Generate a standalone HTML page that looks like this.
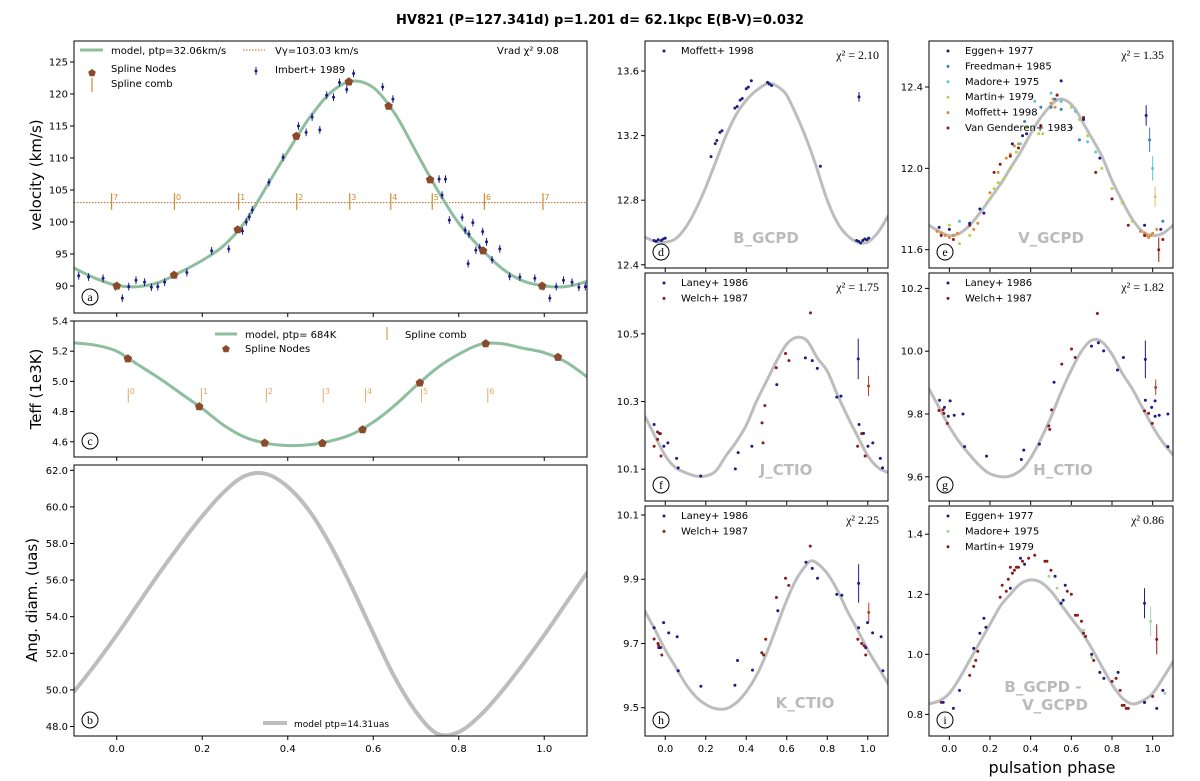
<!DOCTYPE html>
<html><head><meta charset="utf-8">
<style>
html,body{margin:0;padding:0;background:#fff;}
svg{display:block;font-family:"DejaVu Sans","Liberation Sans",sans-serif;}
</style></head>
<body>
<svg id="chart" width="1200" height="781" viewBox="0 0 1200 781" xmlns="http://www.w3.org/2000/svg">
<rect width="1200" height="781" fill="#fff"/>
<text x="600" y="24" text-anchor="middle" font-size="13" font-weight="bold" fill="#000">HV821 (P=127.341d) p=1.201 d= 62.1kpc E(B-V)=0.032</text>
<text transform="translate(41,175) rotate(-90)" text-anchor="middle" font-size="15">velocity (km/s)</text>
<text transform="translate(41,389) rotate(-90)" text-anchor="middle" font-size="15">Teff (1e3K)</text>
<text transform="translate(37,600) rotate(-90)" text-anchor="middle" font-size="15">Ang. diam. (uas)</text>
<text x="1052" y="773" text-anchor="middle" font-size="16">pulsation phase</text>
</svg>
<script>
// ---------- DATA ----------
const vradModelPhase=[-0.1,-0.05,0,0.05,0.1,0.15,0.2,0.25,0.3,0.35,0.4,0.45,0.5,0.55,0.6,0.65,0.7,0.75,0.8,0.85,0.9,0.95,1.0,1.05,1.1];
const vradModelVal=[92.8,91.2,90.1,89.9,90.6,92.2,94.0,96.3,100.0,105.5,111.0,116.2,120.2,122.0,121.0,117.0,111.0,105.0,99.8,96.0,92.8,90.8,90.0,89.9,90.7];
const vradNodePhase=[0.0,0.134,0.283,0.42,0.543,0.636,0.733,0.857,0.995];
const vradNodeVal=[90.0,91.7,98.8,113.4,121.9,118.1,106.6,95.5,90.0];
const vradCombPhase=[-0.012,0.135,0.285,0.421,0.545,0.641,0.738,0.860,0.997];
const vradCombLabel=["7","0","1","2","3","4","5","6","7"];
const vGamma=103.03;
const imbertPhase=[-0.089,-0.066,-0.032,-0.003,0.013,0.028,0.045,0.065,0.081,0.096,0.112,0.164,0.222,0.262,0.294,0.303,0.310,0.317,0.356,0.389,0.425,0.443,0.457,0.475,0.491,0.507,0.521,0.538,0.554,0.622,0.646,0.754,0.769,0.761,0.778,0.808,0.815,0.822,0.824,0.833,0.840,0.849,0.856,0.865,0.878,0.896,0.919,0.943,0.978,0.997,1.013,1.028,1.045,1.065,1.081,1.096];
const imbertVel=[91.6,91.4,91.2,89.9,88.1,89.9,90.9,90.6,89.8,89.9,90.6,92.1,95.5,95.8,98.6,100.0,100.8,101.9,106.2,110.1,115.0,114.0,116.4,114.4,119.8,119.5,121.8,120.7,123.2,121.1,119.2,106.7,106.7,104.2,100.3,100.7,98.7,93.5,98.1,99.9,95.6,96.0,98.5,96.9,94.1,95.8,91.5,91.4,91.2,89.9,88.1,89.9,90.9,90.6,89.8,89.9];
const teffModelPhase=[-0.1,-0.05,0,0.05,0.1,0.15,0.2,0.25,0.3,0.35,0.4,0.45,0.5,0.55,0.6,0.65,0.7,0.75,0.8,0.85,0.9,0.95,1.0,1.05,1.1];
const teffModelVal=[5.255,5.24,5.2,5.11,5.02,4.92,4.82,4.71,4.63,4.59,4.575,4.58,4.605,4.65,4.73,4.84,4.97,5.09,5.18,5.245,5.25,5.22,5.19,5.13,5.03];
const teffNodePhase=[0.026,0.193,0.346,0.481,0.575,0.709,0.863,1.032];
const teffNodeVal=[5.15,4.833,4.592,4.59,4.68,4.99,5.25,5.16];
const teffCombPhase=[0.027,0.198,0.35,0.483,0.582,0.713,0.868];
const teffCombLabel=["0","1","2","3","4","5","6"];
const diamPhase=[-0.1,-0.05,0,0.05,0.1,0.15,0.2,0.25,0.3,0.35,0.4,0.45,0.5,0.55,0.6,0.65,0.7,0.75,0.8,0.85,0.9,0.95,1.0,1.05,1.1];
const diamVal=[49.9,51.4,53.0,54.7,56.4,58.0,59.5,60.8,61.7,61.8,61.1,59.8,57.9,55.6,53.1,50.7,48.8,47.6,47.7,48.6,49.9,51.4,53.0,54.7,56.4];
const bModelPhase=[-0.1,-0.05,0,0.05,0.1,0.15,0.2,0.25,0.3,0.35,0.4,0.45,0.5,0.53,0.57,0.6,0.65,0.7,0.74,0.8,0.85,0.9,0.95,1.0,1.05,1.1];
const bModelVal=[12.57,12.545,12.54,12.56,12.63,12.74,12.88,13.04,13.2,13.33,13.42,13.48,13.52,13.52,13.49,13.45,13.32,13.17,13.03,12.8,12.66,12.58,12.54,12.54,12.6,12.7];
const moffBPhase=[-0.055,-0.045,-0.035,-0.02,-0.01,0.0,0.226,0.247,0.255,0.27,0.28,0.344,0.355,0.37,0.38,0.40,0.41,0.425,0.505,0.514,0.525,0.766,0.957,0.945,0.955,0.965,0.975,0.985,0.995,1.005];
const moffBMag=[12.55,12.545,12.555,12.55,12.56,12.565,13.07,13.15,13.17,13.22,13.23,13.37,13.38,13.42,13.43,13.49,13.50,13.54,13.53,13.52,13.51,13.01,13.44,12.55,12.545,12.535,12.55,12.56,12.555,12.565];
const vModelPhase=[-0.1,-0.05,0,0.05,0.1,0.15,0.2,0.25,0.3,0.35,0.4,0.45,0.5,0.54,0.58,0.62,0.66,0.7,0.75,0.8,0.85,0.9,0.95,1.0,1.05,1.1];
const vModelVal=[11.72,11.69,11.67,11.68,11.72,11.78,11.85,11.92,12.0,12.08,12.17,12.25,12.31,12.34,12.33,12.29,12.22,12.15,12.06,11.94,11.84,11.75,11.69,11.67,11.68,11.72];
const eggenVPhase=[-0.05,0.0,0.1,0.15,0.17,0.31,0.36,0.38,0.55,0.66,0.74,0.96,1.04];
const eggenVMag=[11.71,11.70,11.73,11.80,11.78,12.12,12.16,12.17,12.43,12.24,12.05,11.72,11.70];
const freedVPhase=[0.37,0.45,0.5,0.52,0.55,0.6,0.64,1.05];
const freedVMag=[12.23,12.30,12.30,12.34,12.29,12.20,12.14,11.74];
const madoreVPhase=[0.05,0.35,0.42,0.5,0.55,0.62,0.68,0.72];
const madoreVMag=[11.74,12.12,12.33,12.37,12.33,12.28,12.13,12.08];
const martinVPhase=[0.0,0.05,0.1,0.2,0.22,0.24,0.27,0.3,0.33,0.38,0.44,0.46,0.5,0.6,0.64,0.68,0.75,0.8,0.85,0.9];
const martinVMag=[11.72,11.63,11.67,11.85,11.90,11.93,11.95,12.00,12.08,12.20,12.17,12.17,12.30,12.30,12.24,12.16,12.00,11.90,11.83,11.74];
const moffVPhase=[-0.06,-0.04,-0.02,0.0,0.02,0.04,0.12,0.14,0.2,0.24,0.28,0.3,0.32,0.34,0.5,0.51,0.52,0.53,0.55,0.94,0.96,0.97,0.98,0.99,1.0,1.02];
const moffVMag=[11.69,11.68,11.67,11.66,11.67,11.68,11.7,11.73,11.88,11.98,12.05,12.07,12.11,12.12,12.32,12.34,12.30,12.36,12.33,11.69,11.68,11.67,11.66,11.67,11.68,11.70];
const vangVPhase=[-0.04,0.02,0.1,0.22,0.25,0.3,0.34,0.45,0.53,0.66,0.72,0.8,0.88,0.96,1.05];
const vangVMag=[11.67,11.65,11.72,11.98,12.02,12.06,12.10,12.21,12.36,12.25,11.98,11.85,11.72,11.67,11.65];
const errVPhase=[0.968,0.985,1.0,1.012,1.03];
const errVMag=[12.26,12.14,12.0,11.86,11.6];
const jModelPhase=[-0.1,-0.05,0,0.05,0.1,0.15,0.2,0.25,0.3,0.35,0.4,0.45,0.5,0.55,0.6,0.65,0.7,0.75,0.8,0.85,0.9,0.95,1.0,1.05,1.1];
const jModelVal=[10.256,10.197,10.14,10.105,10.09,10.08,10.08,10.095,10.14,10.18,10.23,10.3,10.36,10.42,10.47,10.49,10.48,10.43,10.39,10.32,10.256,10.197,10.14,10.105,10.09];
const laneyJPhase=[-0.055,-0.029,-0.007,0.013,0.056,0.064,0.175,0.346,0.360,0.428,0.551,0.692,0.726,0.751,0.847,0.868,0.957,0.979,1.001,1.025,1.062,1.073];
const laneyJMag=[10.232,10.206,10.168,10.178,10.132,10.104,10.080,10.101,10.149,10.168,10.35,10.429,10.421,10.398,10.313,10.316,10.232,10.206,10.168,10.178,10.132,10.104];
const welchJPhase=[-0.055,-0.038,-0.038,-0.024,-0.021,0.478,0.483,0.492,0.548,0.594,0.611,0.717,0.950,0.970,0.987];
const welchJMag=[10.168,10.21,10.188,10.205,10.139,10.237,10.178,10.288,10.40,10.442,10.421,10.562,10.168,10.205,10.139];
const errJPhase=[0.953,1.004];
const errJMag=[10.426,10.346];
const errJSize=[0.06,0.03];
const hModelPhase=[-0.1,-0.05,0,0.05,0.1,0.15,0.2,0.28,0.35,0.4,0.45,0.5,0.55,0.6,0.65,0.7,0.75,0.8,0.85,0.9,0.95,1.0,1.05,1.1];
const hModelVal=[9.88,9.82,9.76,9.71,9.67,9.635,9.61,9.60,9.62,9.66,9.72,9.79,9.87,9.94,10.0,10.035,10.03,9.99,9.93,9.88,9.82,9.76,9.71,9.67];
const laneyHPhase=[-0.048,-0.024,0.004,-0.005,0.024,0.067,0.075,0.183,0.354,0.366,0.443,0.515,0.699,0.733,0.759,0.827,0.856,0.964,0.995,1.012,1.012,1.032,1.075,1.075];
const laneyHMag=[9.844,9.821,9.842,9.793,9.796,9.8,9.696,9.666,9.655,9.685,9.704,9.901,10.016,10.027,10.001,9.94,9.98,9.844,9.821,9.842,9.793,9.796,9.8,9.696];
const welchHPhase=[-0.051,-0.031,-0.027,-0.01,0.489,0.494,0.503,0.553,0.601,0.619,0.728,0.96,0.98,0.998];
const welchHMag=[9.811,9.813,9.802,9.77,9.762,9.751,9.813,9.959,10.007,9.98,10.12,9.81,9.802,9.77];
const errHPhase=[0.964,1.015];
const errHMag=[9.974,9.885];
const errHSize=[0.06,0.025];
const kModelPhase=[-0.1,-0.05,0,0.05,0.1,0.15,0.2,0.25,0.3,0.35,0.4,0.45,0.5,0.55,0.6,0.65,0.7,0.72,0.75,0.8,0.85,0.9,0.95,1.0,1.05,1.1];
const kModelVal=[9.80,9.742,9.68,9.628,9.575,9.535,9.51,9.497,9.497,9.515,9.55,9.6,9.669,9.752,9.835,9.903,9.947,9.957,9.95,9.918,9.866,9.80,9.742,9.68,9.628,9.575];
const laneyKPhase=[-0.055,-0.032,-0.023,-0.008,0.017,0.059,0.064,0.176,0.344,0.357,0.431,0.556,0.695,0.726,0.752,0.847,0.872,0.955,0.999,0.99,1.024,1.066,1.075];
const laneyKMag=[9.749,9.687,9.687,9.765,9.733,9.721,9.615,9.567,9.570,9.647,9.617,9.802,9.953,9.934,9.903,9.853,9.850,9.749,9.765,9.687,9.733,9.721,9.615];
const welchKPhase=[-0.055,-0.036,-0.032,-0.017,0.477,0.486,0.496,0.549,0.594,0.61,0.716,0.951,0.97,0.982,0.99];
const welchKMag=[9.714,9.700,9.693,9.664,9.671,9.664,9.713,9.843,9.903,9.881,10.003,9.713,9.700,9.693,9.664];
const errKPhase=[0.955,1.005];
const errKMag=[9.887,9.797];
const errKSize=[0.06,0.03];
const bvModelPhase=[-0.1,-0.05,0,0.05,0.1,0.15,0.2,0.25,0.3,0.35,0.4,0.45,0.5,0.55,0.6,0.65,0.7,0.75,0.8,0.85,0.9,0.95,1.0,1.05,1.1];
const bvModelVal=[0.835,0.845,0.87,0.92,0.98,1.04,1.1,1.16,1.2,1.235,1.248,1.24,1.21,1.165,1.12,1.075,1.02,0.96,0.9,0.855,0.835,0.845,0.87,0.92,0.975];
const eggenBVPhase=[-0.03,0.02,0.05,0.12,0.15,0.17,0.18,0.3,0.35,0.37,0.52,0.55,0.56,0.57,0.7,0.74,0.76,0.83,0.96,1.02,1.05];
const eggenBVVal=[0.84,0.82,0.88,1.02,1.07,1.12,1.09,1.22,1.32,1.30,1.26,1.17,1.18,1.23,1.0,0.94,0.92,0.94,0.84,0.82,0.88];
const madoreBVPhase=[0.1,0.49,0.53,0.66,0.7,1.06];
const madoreBVVal=[0.98,1.26,1.22,1.08,0.99,0.87];
const martinBVPhase=[-0.04,0.1,0.12,0.13,0.14,0.25,0.26,0.28,0.29,0.3,0.31,0.32,0.33,0.34,0.36,0.39,0.42,0.47,0.48,0.5,0.58,0.6,0.62,0.63,0.65,0.66,0.67,0.71,0.8,0.82,0.84,0.85,0.86,0.87,0.88,0.96,1.0];
const martinBVVal=[0.84,0.93,0.96,0.98,1.01,1.19,1.23,1.21,1.25,1.29,1.27,1.28,1.29,1.29,1.31,1.32,1.33,1.31,1.31,1.28,1.21,1.20,1.13,1.13,1.11,1.07,1.06,0.98,0.91,0.92,0.88,0.83,0.83,0.82,0.82,0.84,0.86];
const errBVPhase=[0.96,0.99,1.02];
const errBVVal=[1.17,1.11,1.05];

// ---------- RENDER ----------
const NS='http://www.w3.org/2000/svg';
const svg=document.getElementById('chart');
function mk(tag,attrs,name,parent){
  const el=document.createElementNS(NS,tag);
  for(const k in attrs) el.setAttribute(k,attrs[k]);
  
  
  (parent||svg).appendChild(el);
  return el;
}
function txt(x,y,s,name,size,anchor,extra,parent){
  const t=mk('text',Object.assign({x:x,y:y,'font-size':size||10,'text-anchor':anchor||'start'},extra||{}),name,parent);
  t.textContent=s;
  return t;
}
const P={
 a:{L:74,R:587,T:41,B:313,y0:85.78,y1:128.28,ticks:[90,95,100,105,110,115,120,125],dec:0,xl:false,letter:'a'},
 c:{L:74,R:587,T:321,B:457,y0:4.499,y1:5.4,ticks:[4.6,4.8,5.0,5.2,5.4],dec:1,xl:false,letter:'c'},
 b:{L:74,R:587,T:465,B:736,y0:47.48,y1:62.29,ticks:[48,50,52,54,56,58,60,62],dec:1,xl:true,letter:'b'},
 d:{L:645,R:888,T:41,B:268,y0:12.38,y1:13.786,ticks:[12.4,12.8,13.2,13.6],dec:1,xl:false,letter:'d'},
 e:{L:929,R:1173,T:41,B:268,y0:11.51,y1:12.626,ticks:[11.6,12.0,12.4],dec:1,xl:false,letter:'e'},
 f:{L:645,R:888,T:273,B:501,y0:10.006,y1:10.68,ticks:[10.1,10.3,10.5],dec:1,xl:false,letter:'f'},
 g:{L:929,R:1173,T:273,B:501,y0:9.523,y1:10.249,ticks:[9.6,9.8,10.0,10.2],dec:1,xl:false,letter:'g'},
 h:{L:645,R:888,T:506,B:736,y0:9.412,y1:10.128,ticks:[9.5,9.7,9.9,10.1],dec:1,xl:true,letter:'h'},
 i:{L:929,R:1173,T:506,B:736,y0:0.728,y1:1.494,ticks:[0.8,1.0,1.2,1.4],dec:1,xl:true,letter:'i'}
};
const xTicks=[0,0.2,0.4,0.6,0.8,1.0];
function sx(p,v){return p.L+(v+0.1)/1.2*(p.R-p.L);}
function sy(p,v){return p.B-(v-p.y0)/(p.y1-p.y0)*(p.B-p.T);}
for(const k in P){
  const p=P[k];
  const g=mk('g',{},'panel-'+k);
  const cp=mk('clipPath',{id:'clip-'+k},'clip-'+k,g);
  mk('rect',{x:p.L,y:p.T,width:p.R-p.L,height:p.B-p.T},'clip-rect',cp);
  p.plot=mk('g',{'clip-path':'url(#clip-'+k+')'},'plot-area-'+k,g);
  p.ax=mk('g',{},'axes-'+k,g);
  p.ticks.forEach(t=>{
    const y=sy(p,t);
    mk('line',{x1:p.L-4,x2:p.L,y1:y,y2:y,stroke:'#000','stroke-width':1},'y-tick',p.ax);
    txt(p.L-6,y+3.5,t.toFixed(p.dec),'y-tick-label',10,'end',{},p.ax);
  });
  xTicks.forEach(t=>{
    const x=sx(p,t);
    mk('line',{x1:x,x2:x,y1:p.B,y2:p.B+4,stroke:'#000','stroke-width':1},'x-tick',p.ax);
    if(p.xl) txt(x,p.B+16,t.toFixed(1),'x-tick-label',10,'middle',{},p.ax);
  });
}
function curve(p,xs,ys,color,w,name){
  const pts=xs.map((x,i)=>[sx(p,x),sy(p,ys[i])]);
  let d='M'+pts[0][0].toFixed(1)+','+pts[0][1].toFixed(1);
  for(let i=0;i<pts.length-1;i++){
    const p0=pts[Math.max(0,i-1)],p1=pts[i],p2=pts[i+1],p3=pts[Math.min(pts.length-1,i+2)];
    const c1=[p1[0]+(p2[0]-p0[0])/6,p1[1]+(p2[1]-p0[1])/6];
    const c2=[p2[0]-(p3[0]-p1[0])/6,p2[1]-(p3[1]-p1[1])/6];
    d+=' C'+c1[0].toFixed(1)+','+c1[1].toFixed(1)+' '+c2[0].toFixed(1)+','+c2[1].toFixed(1)+' '+p2[0].toFixed(1)+','+p2[1].toFixed(1);
  }
  mk('path',{d:d,fill:'none',stroke:color,'stroke-width':w,'stroke-linecap':'round'},name,p.plot);
}
function dots(p,xs,ys,color,name,r){
  xs.forEach((x,i)=>{
    mk('circle',{cx:sx(p,x),cy:sy(p,ys[i]),r:r||1.5,fill:color},name,p.plot);
  });
}
function errs(p,xs,ys,es,colors,name){
  xs.forEach((x,i)=>{
    const e=Array.isArray(es)?es[i]:es;
    const c=Array.isArray(colors)?colors[i]:colors;
    mk('line',{x1:sx(p,x),x2:sx(p,x),y1:sy(p,ys[i]-e),y2:sy(p,ys[i]+e),stroke:c,'stroke-width':1},name+'-errorbar',p.plot);
    mk('circle',{cx:sx(p,x),cy:sy(p,ys[i]),r:1.5,fill:c},name,p.plot);
  });
}
function pent(cx,cy,r,color,name,parent){
  let s='';
  for(let k=0;k<5;k++){const a=-Math.PI/2+k*2*Math.PI/5;s+=(cx+r*Math.cos(a)).toFixed(1)+','+(cy+r*Math.sin(a)).toFixed(1)+' ';}
  mk('polygon',{points:s,fill:color},name,parent);
}
const GREEN='#8dbf9f',GRAY='#bdbdbd',NAVY='#1c1c84',RED='#8b1a1a',NODE='#8b4a2b',COMB='#d08a2e';

(function(){const p=P.a;
 const yg=sy(p,vGamma);
 mk('line',{x1:p.L,x2:p.R,y1:yg,y2:yg,stroke:'#c0651e','stroke-width':1,'stroke-dasharray':'1.5,1.5'},'vgamma-line',p.plot);
 vradCombPhase.forEach((ph,i)=>{
   const x=sx(p,ph);
   mk('line',{x1:x,x2:x,y1:sy(p,104.5),y2:sy(p,101.9),stroke:COMB,'stroke-width':1.2},'spline-comb-tick',p.plot);
   txt(x+1.5,sy(p,103.4),vradCombLabel[i],'spline-comb-label',8,'start',{fill:COMB},p.plot);
 });
 curve(p,vradModelPhase,vradModelVal,GREEN,3,'vrad-model-curve');
 errs(p,imbertPhase,imbertVel,0.6,NAVY,'imbert-point');
 vradNodePhase.forEach((ph,i)=>pent(sx(p,ph),sy(p,vradNodeVal[i]),4.5,NODE,'spline-node',p.plot));
 const a=p.ax;
 mk('line',{x1:80,x2:103,y1:50,y2:50,stroke:GREEN,'stroke-width':3},'legend-model-line',a);
 txt(111,54,'model, ptp=32.06km/s','legend-model',10,'start',{},a);
 pent(92,73,4,NODE,'legend-node-marker',a);
 txt(111,72,'Spline Nodes','legend-spline-nodes',10,'start',{},a);
 mk('line',{x1:92,x2:92,y1:78,y2:92,stroke:COMB,'stroke-width':1.2},'legend-comb-marker',a);
 txt(111,87,'Spline comb','legend-spline-comb',10,'start',{},a);
 mk('line',{x1:243,x2:265,y1:50,y2:50,stroke:'#c0651e','stroke-width':1,'stroke-dasharray':'1.5,1.5'},'legend-vgamma-line',a);
 txt(275,54,'Vγ=103.03 km/s','legend-vgamma',10,'start',{},a);
 mk('line',{x1:256,x2:256,y1:67,y2:75,stroke:NAVY,'stroke-width':1},'legend-imbert-marker',a);
 mk('circle',{cx:256,cy:71,r:1.5,fill:NAVY},'legend-imbert-dot',a);
 txt(275,73,'Imbert+ 1989','legend-imbert',10,'start',{},a);
 txt(497,54,'Vrad χ²   9.08','chi2-label-a',10,'start',{},a);
})();
(function(){const p=P.c;
 teffCombPhase.forEach((ph,i)=>{
   const x=sx(p,ph);
   mk('line',{x1:x,x2:x,y1:sy(p,4.955),y2:sy(p,4.86),stroke:'#e2a96a','stroke-width':1},'spline-comb-tick',p.plot);
   txt(x+1.5,sy(p,4.915),teffCombLabel[i],'spline-comb-label',8,'start',{fill:'#e2a96a'},p.plot);
 });
 curve(p,teffModelPhase,teffModelVal,GREEN,3,'teff-model-curve');
 teffNodePhase.forEach((ph,i)=>pent(sx(p,ph),sy(p,teffNodeVal[i]),4.5,NODE,'spline-node',p.plot));
 const a=p.ax;
 mk('line',{x1:215,x2:237,y1:334,y2:334,stroke:GREEN,'stroke-width':3},'legend-model-line',a);
 txt(245,338,'model, ptp= 684K','legend-model',10,'start',{},a);
 pent(226,349,4,NODE,'legend-node-marker',a);
 txt(245,352,'Spline Nodes','legend-spline-nodes',10,'start',{},a);
 mk('line',{x1:387,x2:387,y1:327,y2:340,stroke:COMB,'stroke-width':1},'legend-comb-marker',a);
 txt(405,338,'Spline comb','legend-spline-comb',10,'start',{},a);
})();
(function(){const p=P.b;
 curve(p,diamPhase,diamVal,GRAY,4,'angdiam-model-curve');
 mk('line',{x1:263,x2:287,y1:723,y2:723,stroke:GRAY,'stroke-width':4},'legend-model-line',p.ax);
 txt(294,727,'model ptp=14.31uas','legend-model',9,'start',{},p.ax);
})();
(function(){const p=P.d;
 curve(p,bModelPhase,bModelVal,GRAY,3,'b-model-curve');
 dots(p,moffBPhase,moffBMag,NAVY,'moffett-point');
 errs(p,[0.957],[13.44],[0.03],NAVY,'moffett-error-point');
})();
(function(){const p=P.e;
 curve(p,vModelPhase,vModelVal,GRAY,3,'v-model-curve');
 dots(p,martinVPhase,martinVMag,'#b5d24e','martin-point');
 dots(p,moffVPhase,moffVMag,'#e08a3c','moffett-point');
 dots(p,madoreVPhase,madoreVMag,'#5fc6c6','madore-point');
 dots(p,freedVPhase,freedVMag,'#3a80b8','freedman-point');
 dots(p,vangVPhase,vangVMag,RED,'vangenderen-point');
 dots(p,eggenVPhase,eggenVMag,NAVY,'eggen-point');
 errs(p,errVPhase,errVMag,[0.05,0.06,0.06,0.05,0.06],[NAVY,'#3a80b8','#5fc6c6','#e0c060',RED],'error-point');
})();
(function(){const p=P.f;
 curve(p,jModelPhase,jModelVal,GRAY,3,'j-model-curve');
 dots(p,laneyJPhase,laneyJMag,NAVY,'laney-point');
 dots(p,welchJPhase,welchJMag,RED,'welch-point');
 errs(p,errJPhase,errJMag,errJSize,[NAVY,'#b0442a'],'error-point');
})();
(function(){const p=P.g;
 curve(p,hModelPhase,hModelVal,GRAY,3,'h-model-curve');
 dots(p,laneyHPhase,laneyHMag,NAVY,'laney-point');
 dots(p,welchHPhase,welchHMag,RED,'welch-point');
 errs(p,errHPhase,errHMag,errHSize,[NAVY,'#b0442a'],'error-point');
})();
(function(){const p=P.h;
 curve(p,kModelPhase,kModelVal,GRAY,3,'k-model-curve');
 dots(p,laneyKPhase,laneyKMag,NAVY,'laney-point');
 dots(p,welchKPhase,welchKMag,RED,'welch-point');
 errs(p,errKPhase,errKMag,errKSize,[NAVY,'#b0442a'],'error-point');
})();
(function(){const p=P.i;
 curve(p,bvModelPhase,bvModelVal,GRAY,3,'bv-model-curve');
 dots(p,martinBVPhase,martinBVVal,RED,'martin-point');
 dots(p,madoreBVPhase,madoreBVVal,'#a6d6a6','madore-point');
 dots(p,eggenBVPhase,eggenBVVal,NAVY,'eggen-point');
 errs(p,errBVPhase,errBVVal,[0.05,0.05,0.05],[NAVY,'#a6d6a6',RED],'error-point');
})();
function legend(p,items){
  items.forEach((it,i)=>{
    const y=p.T+13+i*15.4;
    mk('circle',{cx:p.L+19,cy:y-3,r:1.5,fill:it[1]},'legend-marker',p.ax);
    txt(p.L+36,y,it[0],'legend-entry',10,'start',{},p.ax);
  });
}
legend(P.d,[['Moffett+ 1998',NAVY]]);
legend(P.e,[['Eggen+ 1977',NAVY],['Freedman+ 1985','#3a80b8'],['Madore+ 1975','#5fc6c6'],['Martin+ 1979','#b5d24e'],['Moffett+ 1998','#e08a3c'],['Van Genderen+ 1983',RED]]);
legend(P.f,[['Laney+ 1986',NAVY],['Welch+ 1987',RED]]);
legend(P.g,[['Laney+ 1986',NAVY],['Welch+ 1987',RED]]);
legend(P.h,[['Laney+ 1986',NAVY],['Welch+ 1987',RED]]);
legend(P.i,[['Eggen+ 1977',NAVY],['Madore+ 1975','#a6d6a6'],['Martin+ 1979',RED]]);
const chiStyle={'font-family':'Liberation Serif, serif'};
txt(P.d.R-9,P.d.T+18,'χ² = 2.10','chi2-label-d',12,'end',chiStyle,P.d.ax);
txt(P.e.R-9,P.e.T+18,'χ² = 1.35','chi2-label-e',12,'end',chiStyle,P.e.ax);
txt(P.f.R-9,P.f.T+18,'χ² = 1.75','chi2-label-f',12,'end',chiStyle,P.f.ax);
txt(P.g.R-9,P.g.T+18,'χ² = 1.82','chi2-label-g',12,'end',chiStyle,P.g.ax);
txt(P.h.R-9,P.h.T+18,'χ²    2.25','chi2-label-h',12,'end',chiStyle,P.h.ax);
txt(P.i.R-9,P.i.T+18,'χ²    0.86','chi2-label-i',12,'end',chiStyle,P.i.ax);
const lblStyle={fill:'#bbbbbb','font-weight':'bold'};
txt(766,243,'B_GCPD','band-label-d',15,'middle',lblStyle,P.d.ax);
txt(1051,243,'V_GCPD','band-label-e',15,'middle',lblStyle,P.e.ax);
txt(786,475,'J_CTIO','band-label-f',15,'middle',lblStyle,P.f.ax);
txt(1063,475,'H_CTIO','band-label-g',15,'middle',lblStyle,P.g.ax);
txt(805,708,'K_CTIO','band-label-h',15,'middle',lblStyle,P.h.ax);
txt(1043,692,'B_GCPD -','band-label-i1',15,'middle',lblStyle,P.i.ax);
txt(1055,710,'V_GCPD','band-label-i2',15,'middle',lblStyle,P.i.ax);
for(const k in P){
  const p=P[k];
  mk('rect',{x:p.L,y:p.T,width:p.R-p.L,height:p.B-p.T,fill:'none',stroke:'#000','stroke-width':1},'frame-'+k,p.ax);
  mk('circle',{cx:p.L+16,cy:p.B-16,r:8,fill:'none',stroke:'#000','stroke-width':1},'panel-letter-circle',p.ax);
  txt(p.L+16,p.B-12,p.letter,'panel-letter-'+k,12,'middle',{'font-family':'Liberation Serif, serif'},p.ax);
}
</script>
</body></html>
